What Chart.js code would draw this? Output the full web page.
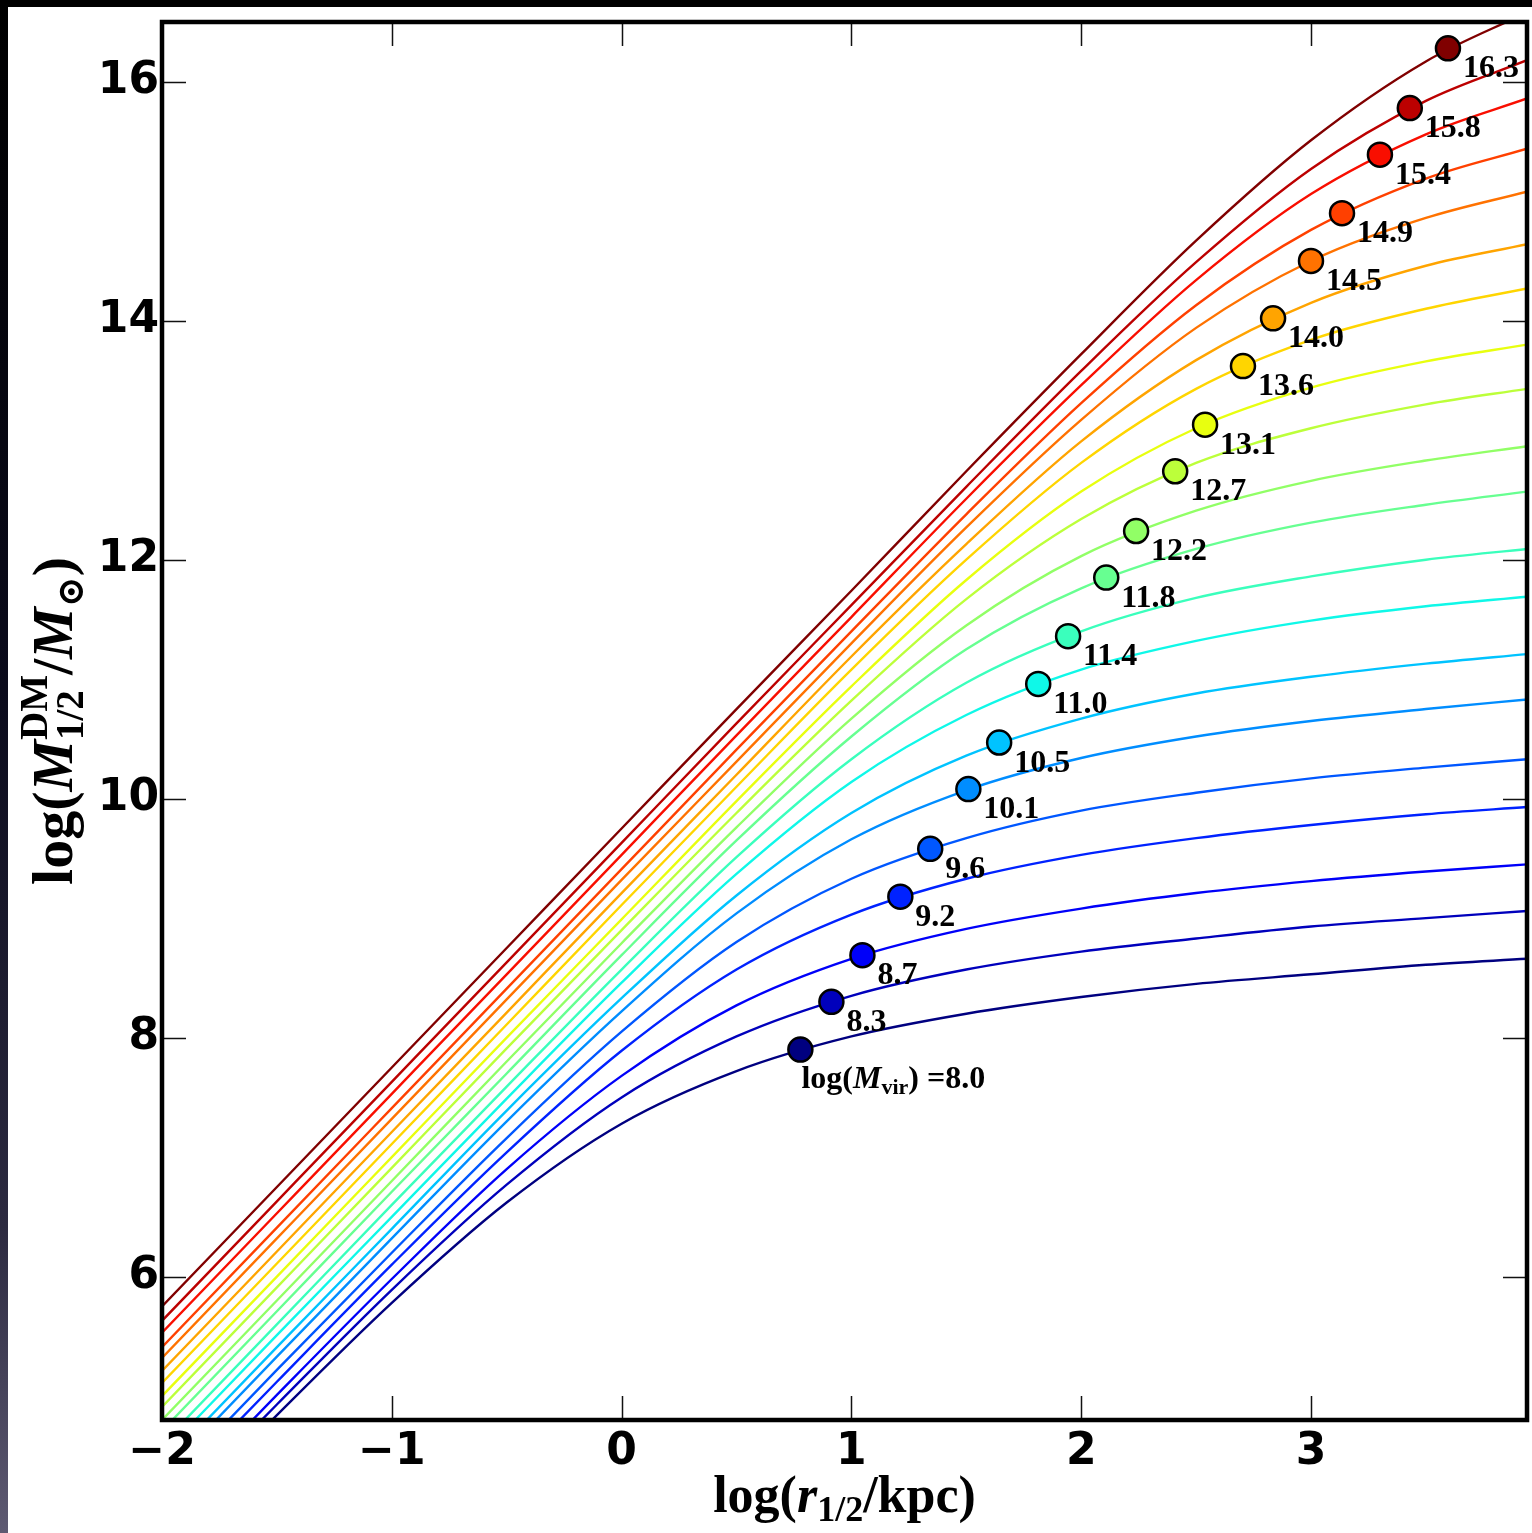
<!DOCTYPE html>
<html>
<head>
<meta charset="utf-8">
<script src="https://cdn.jsdelivr.net/npm/chart.js@4.4.1/dist/chart.umd.min.js"></script>
<style>
  html, body { margin: 0; padding: 0; background: #fff; }
  canvas { display: block; }
</style>
</head>
<body>
<canvas id="haloChart" width="1532" height="1533"></canvas>
<script>
// log(r_1/2 / kpc) sampling of every curve
const logR = [-2, -1.5, -1, -0.5, 0, 0.5, 1, 1.5, 2, 2.5, 3, 3.5, 3.94];

// log(M_1/2^DM / Msun), one array per halo mass
const mvir_8_0  = [3.86, 4.84, 5.78, 6.62, 7.28, 7.72, 8.01, 8.20, 8.34, 8.45, 8.53, 8.61, 8.66];
const mvir_8_3  = [3.95, 4.93, 5.89, 6.77, 7.50, 8.01, 8.35, 8.57, 8.72, 8.83, 8.93, 9.00, 9.06];
const mvir_8_7  = [4.02, 5.01, 5.98, 6.90, 7.68, 8.27, 8.66, 8.91, 9.08, 9.21, 9.31, 9.39, 9.45];
const mvir_9_2  = [4.13, 5.12, 6.10, 7.04, 7.89, 8.57, 9.03, 9.33, 9.53, 9.67, 9.78, 9.87, 9.93];
const mvir_9_6  = [4.22, 5.22, 6.20, 7.16, 8.05, 8.80, 9.33, 9.67, 9.90, 10.05, 10.17, 10.26, 10.33];
const mvir_10_1 = [4.33, 5.33, 6.32, 7.30, 8.22, 9.04, 9.66, 10.07, 10.34, 10.52, 10.65, 10.75, 10.83];
const mvir_10_5 = [4.41, 5.41, 6.40, 7.39, 8.33, 9.19, 9.88, 10.36, 10.67, 10.88, 11.02, 11.13, 11.21];
const mvir_11_0 = [4.51, 5.51, 6.50, 7.49, 8.46, 9.37, 10.14, 10.70, 11.08, 11.32, 11.49, 11.61, 11.69];
const mvir_11_4 = [4.60, 5.60, 6.60, 7.59, 8.57, 9.51, 10.33, 10.97, 11.40, 11.68, 11.86, 12.00, 12.09];
const mvir_11_8 = [4.71, 5.71, 6.71, 7.70, 8.69, 9.65, 10.52, 11.25, 11.76, 12.09, 12.31, 12.46, 12.57];
const mvir_12_2 = [4.80, 5.80, 6.80, 7.80, 8.79, 9.76, 10.67, 11.45, 12.03, 12.41, 12.66, 12.83, 12.95];
const mvir_12_7 = [4.91, 5.91, 6.91, 7.91, 8.90, 9.88, 10.82, 11.67, 12.34, 12.81, 13.10, 13.30, 13.43];
const mvir_13_1 = [5.00, 6.00, 7.00, 8.00, 8.99, 9.98, 10.94, 11.83, 12.57, 13.10, 13.44, 13.66, 13.80];
const mvir_13_6 = [5.11, 6.11, 7.11, 8.11, 9.11, 10.10, 11.08, 12.00, 12.81, 13.43, 13.84, 14.10, 14.27];
const mvir_14_0 = [5.21, 6.21, 7.21, 8.21, 9.21, 10.20, 11.19, 12.13, 12.99, 13.67, 14.15, 14.46, 14.64];
const mvir_14_5 = [5.32, 6.32, 7.32, 8.32, 9.32, 10.31, 11.30, 12.27, 13.17, 13.94, 14.50, 14.86, 15.08];
const mvir_14_9 = [5.41, 6.41, 7.41, 8.41, 9.41, 10.41, 11.40, 12.38, 13.31, 14.13, 14.76, 15.19, 15.44];
const mvir_15_4 = [5.53, 6.53, 7.53, 8.53, 9.53, 10.53, 11.52, 12.51, 13.46, 14.34, 15.06, 15.56, 15.86];
const mvir_15_8 = [5.63, 6.63, 7.63, 8.63, 9.63, 10.63, 11.62, 12.61, 13.58, 14.49, 15.27, 15.84, 16.18];
const mvir_16_3 = [5.75, 6.75, 7.75, 8.75, 9.75, 10.75, 11.74, 12.74, 13.72, 14.67, 15.51, 16.17, 16.58];

// virial points (circles) and their labels
const markerR = [0.778, 0.913, 1.048, 1.213, 1.343, 1.509, 1.643, 1.813, 1.943, 2.109,
                 2.239, 2.409, 2.539, 2.704, 2.835, 3.000, 3.135, 3.300, 3.430, 3.596];
const markerM = [7.90, 8.30, 8.69, 9.18, 9.58, 10.08, 10.47, 10.96, 11.36, 11.85,
                 12.24, 12.74, 13.13, 13.62, 14.02, 14.50, 14.90, 15.39, 15.78, 16.28];
const markerLabels = ['8.0', '8.3', '8.7', '9.2', '9.6', '10.1', '10.5', '11.0', '11.4', '11.8',
                      '12.2', '12.7', '13.1', '13.6', '14.0', '14.5', '14.9', '15.4', '15.8', '16.3'];

const xTicks = [-2, -1, 0, 1, 2, 3];
const yTicks = [6, 8, 10, 12, 14, 16];

const curves = [mvir_8_0, mvir_8_3, mvir_8_7, mvir_9_2, mvir_9_6, mvir_10_1, mvir_10_5,
                mvir_11_0, mvir_11_4, mvir_11_8, mvir_12_2, mvir_12_7, mvir_13_1, mvir_13_6,
                mvir_14_0, mvir_14_5, mvir_14_9, mvir_15_4, mvir_15_8, mvir_16_3];

// jet colormap, 20 steps
const jetColors = ['#000080', '#0000bc', '#0000f9', '#0022ff', '#0057ff', '#008dff', '#00c3ff',
                   '#0ff8e8', '#3affbc', '#67ff91', '#91ff66', '#bcff3a', '#e8ff0f', '#ffd500',
                   '#ffa400', '#ff7200', '#ff4000', '#f90e00', '#bc0000', '#800000'];

const serif = '"Liberation Serif", "Times New Roman", serif';
const B = s => `bold ${s}px ${serif}`;
const BI = s => `italic bold ${s}px ${serif}`;

function partWidth(ctx, p) {
  ctx.font = p.f;
  if (p.sup !== undefined) {
    return Math.max(ctx.measureText(p.sup).width, ctx.measureText(p.sub).width);
  }
  return ctx.measureText(p.t).width;
}

function drawRich(ctx, parts, x, y, centered) {
  let w = 0;
  parts.forEach(p => { w += partWidth(ctx, p); });
  let cx = centered ? x - w / 2 : x;
  ctx.textAlign = 'left';
  ctx.textBaseline = 'alphabetic';
  parts.forEach(p => {
    ctx.font = p.f;
    if (p.sup !== undefined) {
      ctx.fillText(p.sup, cx, y + p.supDy);
      ctx.fillText(p.sub, cx, y + p.subDy);
    } else {
      ctx.fillText(p.t, cx, y + (p.dy || 0));
    }
    cx += partWidth(ctx, p);
  });
}

const decor = {
  id: 'decor',
  beforeDraw(chart) {
    const { ctx, width, height } = chart;
    ctx.save();
    ctx.fillStyle = '#fff';
    ctx.fillRect(0, 0, width, height);
    ctx.fillStyle = '#000';
    ctx.fillRect(0, 0, width, 7);
    const g = ctx.createLinearGradient(0, 0, 0, height);
    g.addColorStop(0, '#000000');
    g.addColorStop(0.45, '#0b0b1c');
    g.addColorStop(0.8, '#2c2a40');
    g.addColorStop(1, '#5e5a72');
    ctx.fillStyle = g;
    ctx.fillRect(0, 0, 8, height);
    ctx.restore();
  },
  afterDatasetsDraw(chart) {
    const { ctx, chartArea: a, scales } = chart;
    const xs = scales.x, ys = scales.y;
    ctx.save();

    // inward ticks on all four sides
    ctx.strokeStyle = '#111';
    ctx.lineWidth = 1.5;
    ctx.beginPath();
    xTicks.forEach(v => {
      const px = Math.round(xs.getPixelForValue(v)) + 0.5;
      ctx.moveTo(px, a.bottom); ctx.lineTo(px, a.bottom - 24);
      ctx.moveTo(px, a.top); ctx.lineTo(px, a.top + 24);
    });
    yTicks.forEach(v => {
      const py = Math.round(ys.getPixelForValue(v)) + 0.5;
      ctx.moveTo(a.left, py); ctx.lineTo(a.left + 24, py);
      ctx.moveTo(a.right, py); ctx.lineTo(a.right - 24, py);
    });
    ctx.stroke();

    // frame
    ctx.strokeStyle = '#000';
    ctx.lineWidth = 4.5;
    ctx.strokeRect(a.left, a.top, a.right - a.left, a.bottom - a.top);

    // marker labels
    ctx.fillStyle = '#000';
    markerR.forEach((r, i) => {
      const px = xs.getPixelForValue(r);
      const py = ys.getPixelForValue(markerM[i]);
      if (i === 0) {
        drawRich(ctx, [
          { t: 'log(', f: B(32) },
          { t: 'M', f: BI(32) },
          { t: 'vir', f: B(22), dy: 6 },
          { t: ') =' + markerLabels[i], f: B(32) }
        ], px + 1, py + 38, false);
      } else {
        drawRich(ctx, [{ t: markerLabels[i], f: B(32) }], px + 15, py + 29, false);
      }
    });

    // x title
    drawRich(ctx, [
      { t: 'log(', f: B(52) },
      { t: 'r', f: BI(52) },
      { t: '1/2', f: B(36), dy: 9 },
      { t: '/kpc)', f: B(52) }
    ], (a.left + a.right) / 2, 1512, true);

    // y title (rotated)
    ctx.translate(72, (a.top + a.bottom) / 2);
    ctx.rotate(-Math.PI / 2);
    drawRich(ctx, [
      { t: 'log(', f: B(58) },
      { t: 'M', f: BI(58) },
      { sup: 'DM', sub: '1/2', f: B(39), supDy: -25, subDy: 11 },
      { t: '/', f: B(58) },
      { t: 'M', f: BI(58) },
      { t: '\u2299', f: 'bold 37px "DejaVu Serif"', dy: 11 },
      { t: ')', f: B(58) }
    ], 0, 0, true);
    ctx.restore();
  }
};

const datasets = [{
  label: 'virial',
  data: markerR.map((r, i) => ({ x: r, y: markerM[i] })),
  pointRadius: 12,
  pointBackgroundColor: jetColors,
  pointBorderColor: '#000',
  pointBorderWidth: 2.5,
  showLine: false,
  order: 0
}];
curves.forEach((c, i) => {
  datasets.push({
    label: markerLabels[i],
    data: logR.map((r, j) => ({ x: r, y: c[j] })),
    showLine: true,
    borderColor: jetColors[i],
    borderWidth: 2.4,
    pointRadius: 0,
    fill: false,
    cubicInterpolationMode: 'monotone',
    order: 1
  });
});

const tickFmt = v => (v < 0 ? '\u2212' + Math.abs(v) : String(v));

// keep the tick labels from pushing the plot area in
const noPad = s => { s.paddingTop = 0; s.paddingBottom = 0; s.paddingLeft = 0; s.paddingRight = 0; };

new Chart(document.getElementById('haloChart'), {
  type: 'scatter',
  data: { datasets: datasets },
  options: {
    responsive: false,
    animation: false,
    devicePixelRatio: 1,
    layout: { autoPadding: false, padding: { top: 22, right: 5, left: 0, bottom: 0 } },
    plugins: {
      legend: { display: false },
      tooltip: { enabled: false }
    },
    scales: {
      x: {
        type: 'linear',
        min: -2,
        max: 3.94,
        grid: { display: false, drawTicks: false },
        border: { display: false },
        afterBuildTicks: s => { s.ticks = xTicks.map(v => ({ value: v })); },
        afterFit: s => { s.height = 113; noPad(s); },
        ticks: {
          color: '#000',
          padding: 6,
          maxRotation: 0,
          font: { family: 'DejaVu Sans', size: 44, weight: 'bold' },
          callback: tickFmt
        }
      },
      y: {
        type: 'linear',
        min: 4.8,
        max: 16.5,
        grid: { display: false, drawTicks: false },
        border: { display: false },
        afterBuildTicks: s => { s.ticks = yTicks.map(v => ({ value: v })); },
        afterFit: s => { s.width = 162; noPad(s); },
        ticks: {
          color: '#000',
          padding: 3,
          font: { family: 'DejaVu Sans', size: 44, weight: 'bold' },
          callback: tickFmt
        }
      }
    }
  },
  plugins: [decor]
});
</script>
</body>
</html>
